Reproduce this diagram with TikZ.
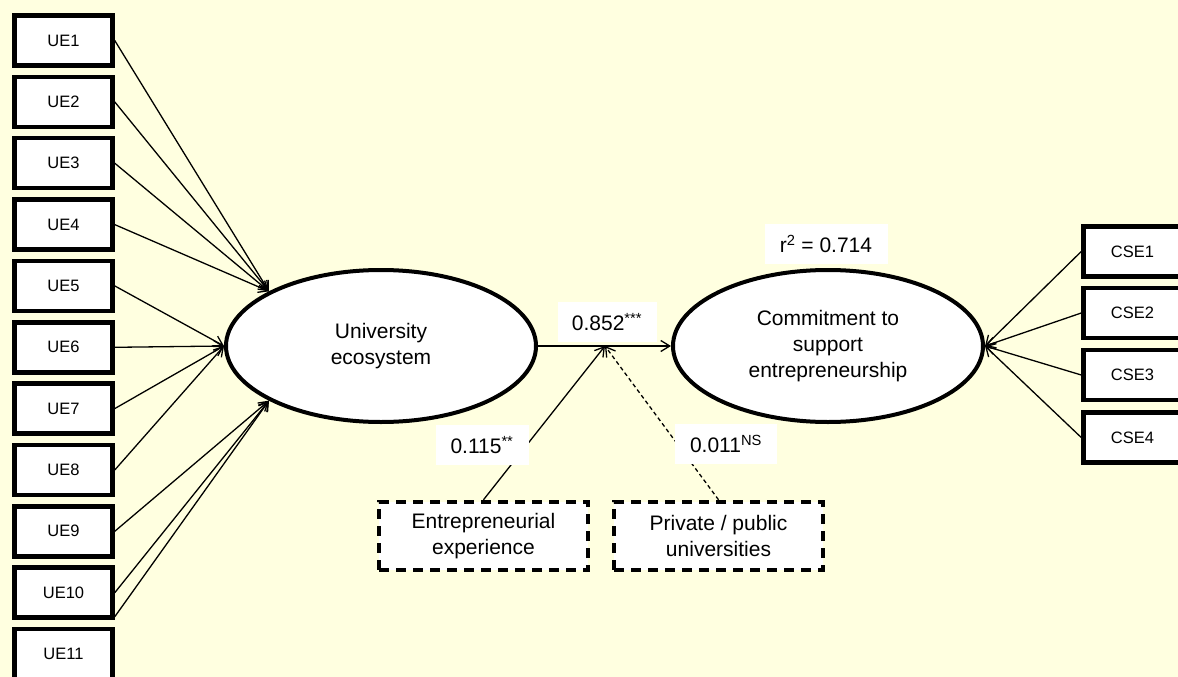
\documentclass[tikz,border=0pt]{standalone}
\usepackage{fontspec}
\setmainfont{Liberation Sans}
\usetikzlibrary{shapes.geometric,arrows.meta}
\definecolor{paper}{RGB}{255,255,224}

\begin{document}
\begin{tikzpicture}[x=1pt,y=-1pt,
  item/.style={draw, line width=4.5pt, fill=white, minimum width=98pt, minimum height=50pt, inner sep=0pt, font=\fontsize{16.5}{20}\selectfont},
  latent/.style={ellipse, draw, line width=4pt, fill=white, minimum width=310pt, minimum height=152pt, inner sep=0pt, align=center, font=\fontsize{21}{26}\selectfont},
  control/.style={draw, line width=4.5pt, dash pattern=on 10pt off 7pt, fill=white, minimum width=209pt, minimum height=68pt, inner sep=0pt, align=center, font=\fontsize{21}{26}\selectfont},
  coef/.style={fill=white, inner sep=0pt, minimum height=40pt, font=\fontsize{21}{26}\selectfont},
  link/.style={->, line width=1.3pt},
  >={Straight Barb[length=9pt,width=11pt]}]
\useasboundingbox (0,0) rectangle (1178,677);
\fill[paper] (0,0) rectangle (1178,677);

% constructs
\node[latent] (uni) at (381,346) {University\\ecosystem};
\node[latent] (comm) at (828,346) {Commitment to\\support\\entrepreneurship};

% indicators of the university ecosystem
\node[item] (UE1) at (63.5,40.5) {UE1};
\node[item] (UE2) at (63.5,101.9) {UE2};
\node[item] (UE3) at (63.5,163.2) {UE3};
\node[item] (UE4) at (63.5,224.6) {UE4};
\node[item] (UE5) at (63.5,285.9) {UE5};
\node[item] (UE6) at (63.5,347.3) {UE6};
\node[item] (UE7) at (63.5,408.6) {UE7};
\node[item] (UE8) at (63.5,470) {UE8};
\node[item] (UE9) at (63.5,531.3) {UE9};
\node[item] (UE10) at (63.5,592.7) {UE10};
\node[item] (UE11) at (63.5,654) {UE11};

\draw[link] (UE1.east) -- (uni.154);
\draw[link] (UE2.east) -- (uni.154);
\draw[link] (UE3.east) -- (uni.154);
\draw[link] (UE4.east) -- (uni.154);
\draw[link] (UE5.east) -- (uni.west);
\draw[link] (UE6.east) -- (uni.west);
\draw[link] (UE7.east) -- (uni.west);
\draw[link] (UE8.east) -- (uni.west);
\draw[link] (UE9.east) -- (uni.206);
\draw[link] (UE10.east) -- (uni.206);
\draw[link] ([yshift=10pt]UE11.north east) -- (uni.206);

% indicators of the commitment
\node[item] (CSE1) at (1132.5,251.5) {CSE1};
\node[item] (CSE2) at (1132.5,313) {CSE2};
\node[item] (CSE3) at (1132.5,375) {CSE3};
\node[item] (CSE4) at (1132.5,437.5) {CSE4};

\draw[link] (CSE1.west) -- (comm.east);
\draw[link] (CSE2.west) -- (comm.east);
\draw[link] (CSE3.west) -- (comm.east);
\draw[link] (CSE4.west) -- (comm.east);

% main path and moderators
\draw[link] (uni.east) -- (comm.west);
\coordinate (mod) at (605,346);

\node[control] (exp) at (483.5,536) {Entrepreneurial\\experience};
\node[control] (priv) at (718.5,536) {Private / public\\universities};

\draw[link] (exp.north) -- (mod);
\draw[link, dash pattern=on 4pt off 3pt] (priv.north) -- (mod);

% coefficients
\node[coef, minimum width=99pt] (b1) at (607,322) {0.852\textsuperscript{***}};
\node[coef, minimum width=93pt] (b2) at (482,445) {0.115\textsuperscript{**}};
\node[coef, minimum width=102pt] (b3) at (726,444) {0.011\textsuperscript{NS}};
\node[coef, minimum width=123pt] (r2) at (826,244) {r\textsuperscript{2} = 0.714};
\end{tikzpicture}
\end{document}
